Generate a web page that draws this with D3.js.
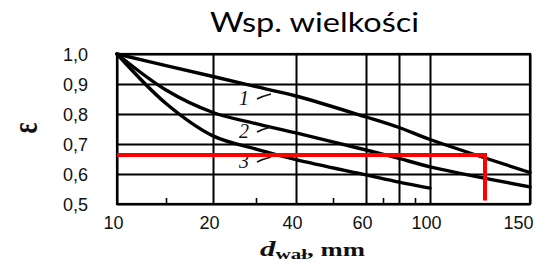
<!DOCTYPE html>
<html>
<head>
<meta charset="utf-8">
<script src="https://cdn.jsdelivr.net/npm/d3@7"></script>
<style>
  html, body { margin: 0; padding: 0; background: #fff; }
  svg { display: block; }
</style>
</head>
<body>
<svg id="chart" width="547" height="264"></svg>
<script>
// ---- data ----
const titleText = "Wsp. wielkości";
const yLabel = "ε";
const xTickValues = [10, 20, 40, 60, 80, 100, 150];
const xLabelValues = [10, 20, 40, 60, 100, 150];
const xMinorTicks = [15, 30, 50, 70, 90];
const yTickValues = [1.0, 0.9, 0.8, 0.7, 0.6, 0.5];

const curve1X = [10, 15, 20, 30, 40, 60, 80, 100, 150];
const curve1Y = [1.0, 0.961, 0.925, 0.891, 0.86, 0.79, 0.755, 0.715, 0.605];
const curve2X = [10, 15, 20, 30, 40, 60, 80, 100, 150];
const curve2Y = [1.0, 0.88, 0.805, 0.768, 0.737, 0.68, 0.652, 0.624, 0.557];
const curve3X = [10, 15, 20, 30, 40, 60, 80, 100];
const curve3Y = [1.0, 0.835, 0.727, 0.683, 0.648, 0.597, 0.573, 0.553];
const curveNames = ["1", "2", "3"];
const curveLabelAt = [[30, 0.85], [30, 0.74], [30, 0.64]];

const redX = [10, 127.5, 127.5];
const redY = [0.663, 0.663, 0.512];

// ---- layout ----
const svg = d3.select("#chart");
// piecewise scale reproducing the non-uniform printed axis
const xDomain = [10, 15, 20, 30, 40, 50, 60, 70, 80, 90, 100, 150];
const xRange  = [117, 166, 213, 256, 296, 333, 366, 383, 399, 415, 430, 530];
const x = d3.scaleLinear().domain(xDomain).range(xRange);
const y = d3.scaleLinear().domain([0.5, 1.0]).range([204, 54]);

const pLeft = x(10), pRight = x(150), pTop = y(1.0), pBottom = y(0.5);

// gridlines (vertical) via axis
const gx = svg.append("g")
  .attr("transform", `translate(0,${pBottom})`)
  .call(d3.axisBottom(x).tickValues(xTickValues).tickSize(-(pBottom - pTop)).tickFormat(""));
gx.select(".domain").remove();
gx.selectAll(".tick line").attr("stroke", "#000").attr("stroke-width", 2);

// gridlines (horizontal) via axis
const gy = svg.append("g")
  .attr("transform", `translate(${pLeft},0)`)
  .call(d3.axisLeft(y).tickValues(yTickValues).tickSize(-(pRight - pLeft)).tickFormat(""));
gy.select(".domain").remove();
gy.selectAll(".tick line").attr("stroke", "#000").attr("stroke-width", 2);

// minor ticks at bottom
const gm = svg.append("g")
  .attr("transform", `translate(0,${pBottom})`)
  .call(d3.axisTop(x).tickValues(xMinorTicks).tickSize(6).tickFormat(""));
gm.select(".domain").remove();
gm.selectAll(".tick line").attr("stroke", "#000").attr("stroke-width", 1.6);

// frame
svg.append("rect")
  .attr("x", pLeft).attr("y", pTop)
  .attr("width", pRight - pLeft).attr("height", pBottom - pTop)
  .attr("fill", "none").attr("stroke", "#000").attr("stroke-width", 2.2);

// x tick labels
const gxl = svg.append("g")
  .attr("transform", `translate(0,${pBottom})`)
  .call(d3.axisBottom(x).tickValues(xLabelValues).tickSize(0).tickPadding(12)
        .tickFormat(d => String(d)));
gxl.select(".domain").remove();
gxl.selectAll("text")
  .attr("font-family", "Liberation Sans, Arial, sans-serif")
  .attr("font-size", 18)
  .attr("fill", "#111")
  .attr("dx", -4)
  .filter(d => d === 150).attr("text-anchor", "end").attr("dx", 3);

// y tick labels
const gyl = svg.append("g")
  .attr("transform", `translate(${pLeft},0)`)
  .call(d3.axisLeft(y).tickValues(yTickValues).tickSize(0).tickPadding(29)
        .tickFormat(d => d3.format(".1f")(d).replace(".", ",")));
gyl.select(".domain").remove();
gyl.selectAll("text")
  .attr("font-family", "Liberation Sans, Arial, sans-serif")
  .attr("font-size", 18)
  .attr("fill", "#111")
  .attr("dy", "0.38em");

// curves
const line = d3.line().x(d => x(d[0])).y(d => y(d[1])).curve(d3.curveCatmullRom.alpha(0.5));
const series = [
  d3.zip(curve1X, curve1Y),
  d3.zip(curve2X, curve2Y),
  d3.zip(curve3X, curve3Y)
];
svg.append("g").selectAll("path").data(series).join("path")
  .attr("d", line)
  .attr("fill", "none")
  .attr("stroke", "#000")
  .attr("stroke-width", 3.4)
  .attr("stroke-linecap", "round");

// curve labels with leader lines
const labG = svg.append("g");
curveNames.forEach((n, i) => {
  const ax = x(curveLabelAt[i][0]), ay = y(curveLabelAt[i][1]);
  labG.append("text")
    .attr("x", ax - 17).attr("y", ay + 6)
    .attr("font-family", "Liberation Serif, serif")
    .attr("font-style", "italic")
    .attr("font-size", 20)
    .attr("fill", "#111")
    .text(n);
  labG.append("path")
    .attr("d", `M${ax + 1},${ay} Q${ax + 7},${ay - 3} ${ax + 15},${ay - 5}`)
    .attr("fill", "none").attr("stroke", "#111").attr("stroke-width", 1.7);
});

// red marker line
const redLine = d3.line().x(d => x(d[0])).y(d => y(d[1]));
svg.append("path")
  .attr("d", redLine(d3.zip(redX, redY)))
  .attr("fill", "none")
  .attr("stroke", "#ff0000")
  .attr("stroke-width", 4);

// title
svg.append("text")
  .attr("x", 210).attr("y", 32)
  .attr("font-family", "Lato, 'Open Sans', sans-serif")
  .attr("font-size", 27)
  .attr("textLength", 209)
  .attr("lengthAdjust", "spacingAndGlyphs")
  .attr("fill", "#000")
  .text(titleText);

// y axis label (rotated epsilon)
svg.append("text")
  .attr("transform", "translate(37,128) rotate(-90) scale(1,1.35)")
  .attr("text-anchor", "middle")
  .attr("font-family", "Liberation Serif, serif")
  .attr("font-weight", "bold")
  .attr("font-size", 26)
  .attr("fill", "#111")
  .text(yLabel);

// x axis label
const xl = svg.append("text")
  .attr("x", 260).attr("y", 256)
  .attr("font-family", "Liberation Serif, serif")
  .attr("font-weight", "bold")
  .attr("textLength", 105)
  .attr("lengthAdjust", "spacingAndGlyphs")
  .attr("fill", "#111");
xl.append("tspan").attr("font-style", "italic").attr("font-size", 22).text("d");
xl.append("tspan").attr("font-size", 15).attr("dy", 3).text("wał");
xl.append("tspan").attr("font-size", 19).attr("dy", -3).text(", mm");
</script>
</body>
</html>
